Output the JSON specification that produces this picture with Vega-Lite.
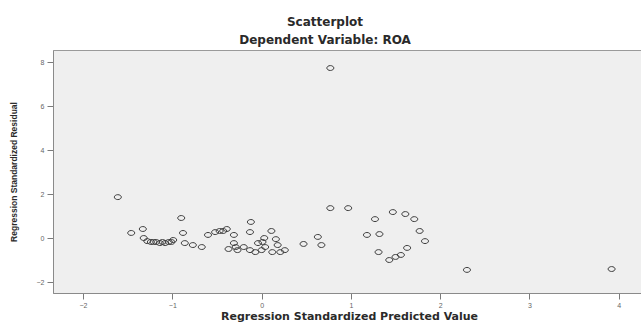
{
  "$schema": "https://vega.github.io/schema/vega-lite/v6.json",
  "width": 592,
  "height": 243,
  "autosize": {"type": "none"},
  "padding": {"left": 53, "top": 50, "right": 0, "bottom": 30},
  "background": "white",
  "title": {
    "text": "Scatterplot",
    "subtitle": "Dependent Variable: ROA",
    "anchor": "middle",
    "dx": -24,
    "font": "DejaVu Sans",
    "fontSize": 12,
    "fontWeight": "bold",
    "color": "#2a2a2a",
    "subtitleFont": "DejaVu Sans",
    "subtitleFontSize": 12,
    "subtitleFontWeight": "bold",
    "subtitleColor": "#2a2a2a",
    "subtitlePadding": 6,
    "offset": 3
  },
  "config": {
    "view": {"fill": "#efefef", "stroke": "#9a9a9a", "strokeWidth": 1},
    "axis": {
      "grid": false,
      "domainColor": "#8a8a8a",
      "tickColor": "#7a7a7a",
      "tickSize": 6,
      "labelFont": "Liberation Sans",
      "labelFontSize": 7,
      "labelColor": "#666666",
      "titleFont": "DejaVu Sans",
      "titleFontWeight": "bold",
      "titleColor": "#2a2a2a"
    }
  },
  "data": {
    "values": [
      {"pred": -1.61, "resid": 1.86},
      {"pred": -1.46, "resid": 0.23},
      {"pred": -1.33, "resid": 0.41},
      {"pred": -1.32, "resid": 0.0},
      {"pred": -1.28, "resid": -0.14},
      {"pred": -1.24, "resid": -0.18},
      {"pred": -1.21, "resid": -0.18},
      {"pred": -1.18, "resid": -0.18},
      {"pred": -1.14, "resid": -0.23},
      {"pred": -1.11, "resid": -0.18},
      {"pred": -1.08, "resid": -0.23},
      {"pred": -1.04, "resid": -0.18},
      {"pred": -1.01, "resid": -0.18},
      {"pred": -0.99, "resid": -0.09},
      {"pred": -0.90, "resid": 0.91},
      {"pred": -0.88, "resid": 0.23},
      {"pred": -0.86, "resid": -0.23},
      {"pred": -0.77, "resid": -0.32},
      {"pred": -0.67, "resid": -0.41},
      {"pred": -0.60, "resid": 0.14},
      {"pred": -0.52, "resid": 0.27},
      {"pred": -0.47, "resid": 0.32},
      {"pred": -0.43, "resid": 0.32},
      {"pred": -0.39, "resid": 0.41},
      {"pred": -0.31, "resid": 0.14},
      {"pred": -0.37, "resid": -0.50},
      {"pred": -0.31, "resid": -0.23},
      {"pred": -0.29, "resid": -0.41},
      {"pred": -0.27, "resid": -0.55},
      {"pred": -0.20, "resid": -0.41},
      {"pred": -0.12, "resid": 0.73},
      {"pred": -0.13, "resid": 0.27},
      {"pred": -0.13, "resid": -0.55},
      {"pred": -0.07, "resid": -0.64},
      {"pred": -0.04, "resid": -0.23},
      {"pred": 0.0, "resid": -0.55},
      {"pred": 0.01, "resid": -0.18},
      {"pred": 0.03, "resid": 0.0},
      {"pred": 0.04, "resid": -0.41},
      {"pred": 0.11, "resid": 0.32},
      {"pred": 0.16, "resid": -0.05},
      {"pred": 0.18, "resid": -0.32},
      {"pred": 0.12, "resid": -0.64},
      {"pred": 0.21, "resid": -0.64},
      {"pred": 0.26, "resid": -0.55},
      {"pred": 0.47, "resid": -0.27},
      {"pred": 0.63, "resid": 0.05},
      {"pred": 0.67, "resid": -0.32},
      {"pred": 0.77, "resid": 7.73},
      {"pred": 0.77, "resid": 1.36},
      {"pred": 0.97, "resid": 1.36},
      {"pred": 1.27, "resid": 0.86},
      {"pred": 1.18, "resid": 0.14},
      {"pred": 1.32, "resid": 0.18},
      {"pred": 1.31, "resid": -0.64},
      {"pred": 1.47, "resid": 1.18},
      {"pred": 1.61, "resid": 1.09},
      {"pred": 1.71, "resid": 0.86},
      {"pred": 1.77, "resid": 0.32},
      {"pred": 1.83, "resid": -0.14},
      {"pred": 1.63, "resid": -0.45},
      {"pred": 1.56, "resid": -0.77},
      {"pred": 1.50, "resid": -0.86},
      {"pred": 1.43, "resid": -1.0},
      {"pred": 2.30, "resid": -1.45},
      {"pred": 3.92, "resid": -1.41}
    ]
  },
  "mark": {
    "type": "point",
    "shape": "M-1,0A1,0.7 0 1,0 1,0A1,0.7 0 1,0 -1,0Z",
    "size": 49,
    "filled": false,
    "stroke": "#3c3c3c",
    "strokeWidth": 1,
    "opacity": 1
  },
  "encoding": {
    "x": {
      "field": "pred",
      "type": "quantitative",
      "scale": {"domain": [-2.336, 4.294], "nice": false, "zero": false},
      "axis": {
        "title": "Regression Standardized Predicted Value",
        "values": [-2, -1, 0, 1, 2, 3, 4],
        "titleFontSize": 11,
        "titlePadding": 2,
        "labelPadding": 2
      }
    },
    "y": {
      "field": "resid",
      "type": "quantitative",
      "scale": {"domain": [-2.5, 8.55], "nice": false, "zero": false},
      "axis": {
        "title": "Regression Standardized Residual",
        "values": [-2, 0, 2, 4, 6, 8],
        "titleFont": "Liberation Sans",
        "titleFontSize": 8.5,
        "titlePadding": 18,
        "labelPadding": 3
      }
    }
  }
}
